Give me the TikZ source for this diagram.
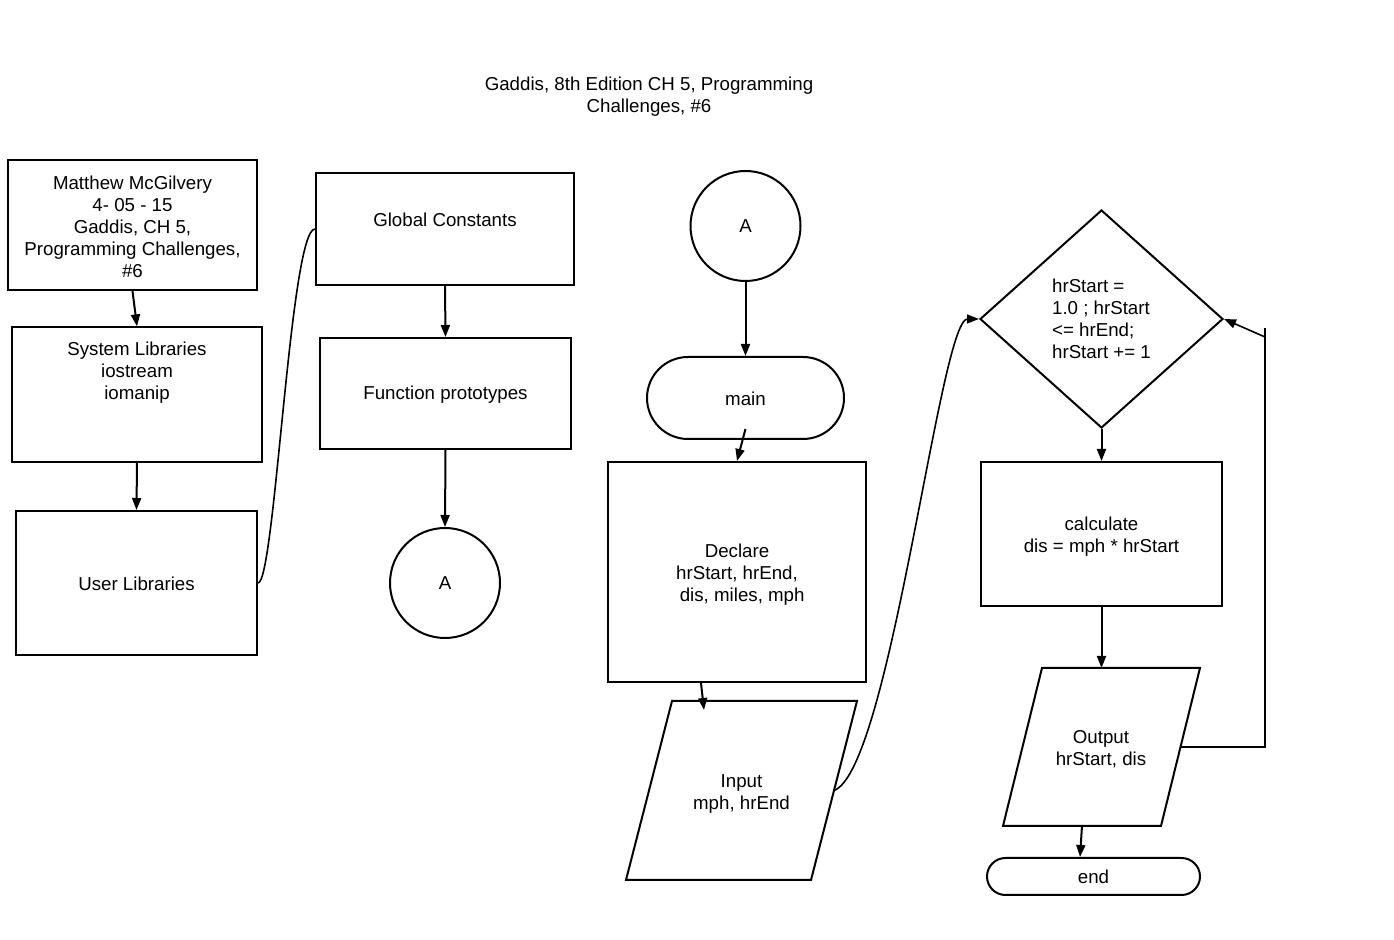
\documentclass[tikz,border=0pt]{standalone}
\usepackage{fontspec}
\setmainfont{Liberation Sans}
\usetikzlibrary{arrows.meta,shapes.geometric}

\begin{document}
\begin{tikzpicture}[x=0.5pt,y=-0.5pt,
  every node/.style={font=\fontsize{9.35}{11}\selectfont},
  box/.style={draw, line width=1pt, inner sep=0pt, align=center},
  thinbox/.style={draw, line width=0.6pt, inner sep=0pt},
  conn/.style={line width=1pt, -{Triangle[length=6pt,width=4.5pt]}},
  link/.style={line width=0.8pt},
  outline/.style={draw, line width=1pt, line join=miter},
  iotext/.style={inner sep=0pt, align=center},
  term/.style={draw, line width=1pt, inner sep=0pt},
  conncirc/.style={draw, circle, line width=1pt, inner sep=0pt, minimum size=55pt},
  decision/.style={draw, diamond, line width=1pt, inner sep=0pt, align=left},
]
\useasboundingbox (0,0) rectangle (1394,940);

% heading
\node[align=center] (title) at (649,97) {Gaddis, 8th Edition CH 5, Programming\\Challenges, \#6};

% left column: header and libraries
\node[box, minimum width=124.5pt, minimum height=65pt,
  label={[align=center, yshift=-1pt]center:Matthew McGilvery\\4- 05 - 15\\Gaddis, CH 5,\\Programming Challenges,\\\#6}]
  (auth) at (132.5,225) {};
\node[thinbox, minimum width=125pt, minimum height=67.5pt,
  label={[align=center, inner sep=0pt, anchor=north, yshift=-7.5pt]north:System Libraries\\iostream\\iomanip}]
  (sys) at (137,394.5) {};
\node[box, minimum width=120.5pt, minimum height=72pt,
  label={[yshift=-0.5pt]center:User Libraries}] (ulib) at (136.5,583) {};

% second column
\node[box, minimum width=129pt, minimum height=56pt,
  label={[yshift=4.5pt]center:Global Constants}] (gc) at (445,229) {};
\node[box, minimum width=125.5pt, minimum height=55.5pt,
  label={[yshift=-0.5pt]center:Function prototypes}] (fp) at (445.5,393.5) {};
\node[conncirc] (ca) at (445,583) {A};

% main program column
\node[conncirc] (cb) at (745.5,226) {A};
\node[term, minimum width=98.5pt, minimum height=41pt, rounded corners=20.5pt,
  label={[yshift=-0.5pt]center:main}] (main) at (745.5,398) {};
\node[box, minimum width=129pt, minimum height=110pt,
  label={[align=center, yshift=-1.5pt]center:Declare\\hrStart, hrEnd,\\\ \ dis, miles, mph}] (decl) at (737,572) {};

% input parallelogram
\coordinate (inp-tl) at (672,701);
\coordinate (inp-tr) at (857,701);
\coordinate (inp-br) at (811,880);
\coordinate (inp-bl) at (626,880);
\coordinate (inp-e) at (834,790.5);
\draw[outline] (inp-tl) -- (inp-tr) -- (inp-br) -- (inp-bl) -- cycle;
\node[iotext] (inp) at (741.5,794) {Input\\mph, hrEnd};

% loop column
\node[decision, minimum width=121.5pt, minimum height=109pt] (dec) at (1101.5,319)
  {hrStart =\\1.0 ; hrStart\\<= hrEnd;\\hrStart += 1};
\node[box, minimum width=120.5pt, minimum height=72pt,
  label={[align=center, yshift=-1.5pt]center:calculate\\dis = mph * hrStart}] (calc) at (1101.5,534) {};

% output parallelogram
\coordinate (out-tl) at (1042,668);
\coordinate (out-tr) at (1200,668);
\coordinate (out-br) at (1161,826);
\coordinate (out-bl) at (1003,826);
\coordinate (out-e) at (1180.5,747);
\coordinate (out-s) at (1082,826);
\draw[outline] (out-tl) -- (out-tr) -- (out-br) -- (out-bl) -- cycle;
\node[iotext] (out) at (1101,749) {Output\\hrStart, dis};

\node[term, minimum width=106.5pt, minimum height=18.5pt, rounded corners=9.25pt] (end) at (1093.5,876.5) {end};

% connectors
\draw[conn] (auth.south) -- (sys.north);
\draw[conn] (sys.south) -- (ulib.north);
\draw[link] (ulib.east) .. controls (275,583) and (290,229) .. (gc.west);
\draw[conn] (gc.south) -- (fp.north);
\draw[conn] (fp.south) -- (ca.north);

\draw[conn] (cb.south) -- (main.north);
\draw[conn] ([yshift=5.5pt]main.south) -- (decl.north);
\draw[conn] ([xshift=-18pt]decl.south) -- ([xshift=16pt,yshift=-4.5pt]inp-tl);
\draw[conn, line width=0.8pt] (inp-e) .. controls (890,770) and (940,319) .. (dec.west);

\draw[conn] (dec.south) -- (calc.north);
\draw[conn] (calc.south) -- (calc.south |- out-tl);
\draw[conn] (out-s) -- ([xshift=-6.75pt]end.north);

% loop back to the decision
\coordinate (lt) at (1265,328);
\coordinate (lj) at (1265,337);
\draw[link] (out-e) -| (lt);
\draw[conn, line width=0.8pt] (lj) -- (dec.east);
\end{tikzpicture}
\end{document}
